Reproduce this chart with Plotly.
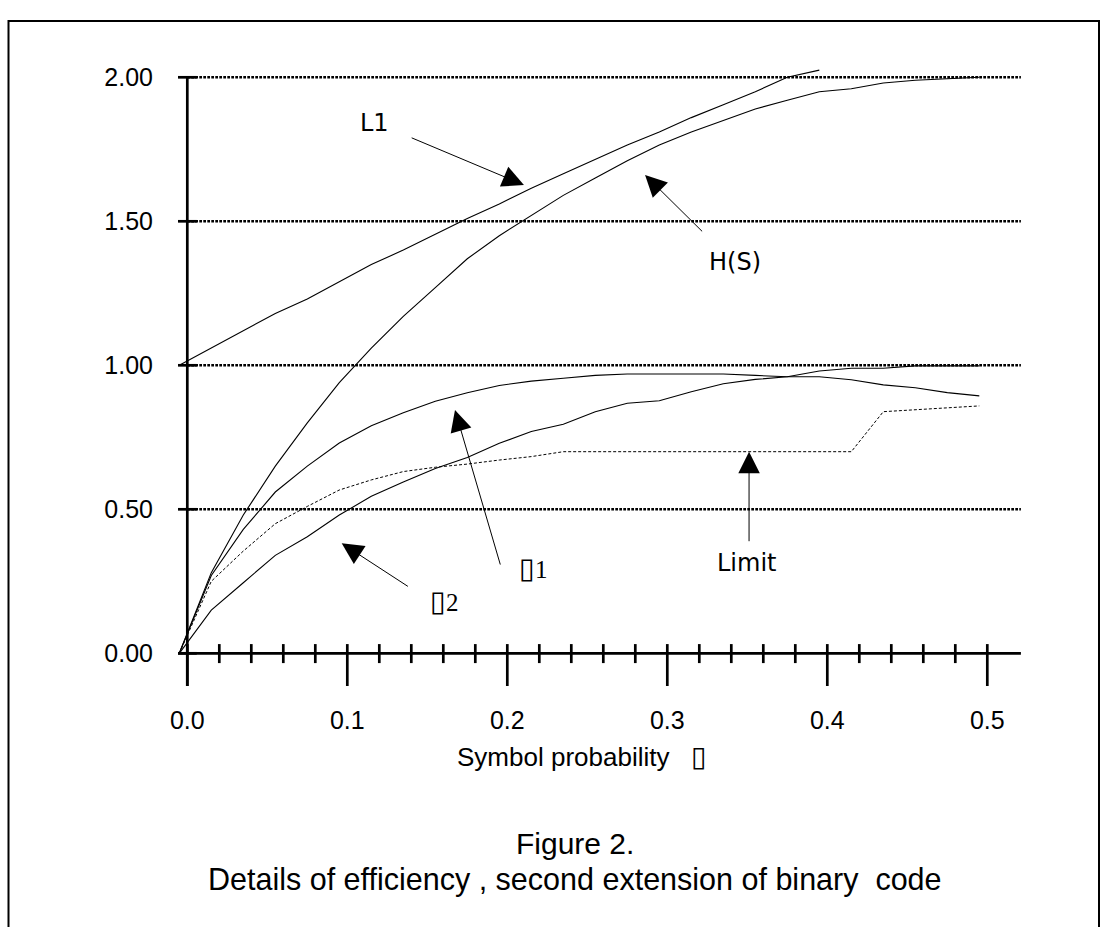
import plotly.graph_objects as go

# ---------------- data ----------------
x_pos = [-0.005, 0.015, 0.035, 0.055, 0.075, 0.095, 0.115, 0.135, 0.155, 0.175,
         0.195, 0.215, 0.235, 0.255, 0.275, 0.295, 0.315, 0.335, 0.355, 0.375,
         0.395, 0.415, 0.435, 0.455, 0.475, 0.495]
h_s = [0.00, 0.28, 0.48, 0.65, 0.80, 0.94, 1.06, 1.17, 1.27, 1.37,
       1.45, 1.52, 1.59, 1.65, 1.71, 1.765, 1.81, 1.85, 1.89, 1.92,
       1.95, 1.96, 1.98, 1.99, 1.995, 2.00]
l1 = [1.00, 1.06, 1.12, 1.18, 1.23, 1.29, 1.35, 1.40, 1.455, 1.51,
      1.56, 1.615, 1.665, 1.715, 1.765, 1.81, 1.86, 1.905, 1.95, 2.00, 2.025]
eta1 = [0.00, 0.27, 0.43, 0.56, 0.65, 0.73, 0.79, 0.835, 0.875, 0.905,
        0.93, 0.945, 0.955, 0.965, 0.97, 0.97, 0.97, 0.97, 0.965, 0.96,
        0.96, 0.95, 0.932, 0.922, 0.905, 0.894]
eta2 = [0.00, 0.15, 0.245, 0.34, 0.405, 0.48, 0.545, 0.595, 0.642, 0.68,
        0.729, 0.77, 0.795, 0.839, 0.868, 0.877, 0.908, 0.936, 0.951, 0.96,
        0.98, 0.99, 0.99, 0.998, 0.998, 0.998]
limit = [0.00, 0.25, 0.355, 0.45, 0.51, 0.567, 0.602, 0.631, 0.646, 0.657,
         0.671, 0.683, 0.70, 0.70, 0.70, 0.70, 0.70, 0.70, 0.70, 0.70,
         0.70, 0.70, 0.839, 0.846, 0.852, 0.859]

x_major = [0.0, 0.1, 0.2, 0.3, 0.4, 0.5]
x_major_labels = ["0.0", "0.1", "0.2", "0.3", "0.4", "0.5"]
x_minor = [0.02, 0.04, 0.06, 0.08, 0.12, 0.14, 0.16, 0.18, 0.22, 0.24, 0.26, 0.28,
           0.32, 0.34, 0.36, 0.38, 0.42, 0.44, 0.46, 0.48]
y_major = [0.0, 0.5, 1.0, 1.5, 2.0]
y_major_labels = ["0.00", "0.50", "1.00", "1.50", "2.00"]
grid_levels = [0.5, 1.0, 1.5, 2.0]

# ---------------- geometry ----------------
W, H = 1101, 927
ML, MR, MT, MB = 170, 71, 50, 237
PW, PH = W - ML - MR, H - MT - MB
X0_PX, X_SCALE = 187.3, 1600.0     # pixel of x=0, pixels per unit
Y0_PX, Y_SCALE = 653.3, 288.0      # pixel of y=0, pixels per unit
x_range = [(ML - X0_PX) / X_SCALE, (W - MR - X0_PX) / X_SCALE]
y_range = [(Y0_PX - (H - MB)) / Y_SCALE, (Y0_PX - MT) / Y_SCALE]


def px(X):
    return (X - ML) / PW


def py(Y):
    return (H - MB - Y) / PH


AXIS_END = 0.521
AX_W = 2.7
BLACK = "#000000"

fig = go.Figure()

line_style = dict(color=BLACK, width=1.1)
fig.add_trace(go.Scatter(x=x_pos, y=h_s, mode="lines", line=line_style, name="H(S)"))
fig.add_trace(go.Scatter(x=x_pos[:len(l1)], y=l1, mode="lines", line=line_style, name="L1"))
fig.add_trace(go.Scatter(x=x_pos, y=eta1, mode="lines", line=line_style, name="eta1"))
fig.add_trace(go.Scatter(x=x_pos, y=eta2, mode="lines", line=line_style, name="eta2"))
fig.add_trace(go.Scatter(x=x_pos, y=limit, mode="lines",
                         line=dict(color=BLACK, width=1, dash="3px,2px"), name="Limit"))

shapes = []
# dotted gridlines
for g in grid_levels:
    shapes.append(dict(type="line", xref="x", yref="y", x0=0, x1=AXIS_END, y0=g, y1=g,
                       line=dict(color=BLACK, width=2.6, dash="2.7px,1.3px"), layer="below"))
# axis lines
shapes.append(dict(type="line", xref="x", yref="y", x0=-0.0058, x1=AXIS_END, y0=0, y1=0,
                   line=dict(color=BLACK, width=AX_W)))
shapes.append(dict(type="line", xref="x", yref="y", x0=0, x1=0, y0=-0.1135, y1=2.0,
                   line=dict(color=BLACK, width=AX_W)))
# x ticks
for t in x_major:
    shapes.append(dict(type="line", xref="x", yref="y", x0=t, x1=t, y0=0.032, y1=-0.1135,
                       line=dict(color=BLACK, width=AX_W)))
for t in x_minor:
    shapes.append(dict(type="line", xref="x", yref="y", x0=t, x1=t, y0=0.032, y1=-0.034,
                       line=dict(color=BLACK, width=AX_W)))
# y ticks
for t in y_major:
    shapes.append(dict(type="line", xref="x", yref="y", x0=-0.0058, x1=0.0059, y0=t, y1=t,
                       line=dict(color=BLACK, width=AX_W)))
# outer frame
shapes.append(dict(type="rect", xref="paper", yref="paper",
                   x0=px(8.5), x1=px(1099), y0=py(940), y1=py(21),
                   line=dict(color=BLACK, width=2)))

annotations = []
label_font = dict(family="DejaVu Sans", size=24, color=BLACK)
serif_font = dict(family="Liberation Serif", size=25, color=BLACK)


def box(size):
    return '<span style="font-family:DejaVu Sans;font-size:%dpx">\u25AF</span>' % size


# curve labels
annotations += [
    dict(x=0.1171, y=1.843, text="L1", showarrow=False, font=label_font),
    dict(x=0.3423, y=1.357, text="H(S)", showarrow=False, font=label_font),
    dict(x=0.3498, y=0.3135, text="Limit", showarrow=False, font=label_font),
    dict(x=0.2161, y=0.296, text=box(29) + "1", showarrow=False, font=serif_font),
    dict(x=0.1603, y=0.1816, text=box(29) + "2", showarrow=False, font=serif_font),
]
for a in annotations:
    a.update(xanchor="center", yanchor="middle")

# arrows: (tip_x, tip_y, tail_x, tail_y)
arrows = [
    (0.2104, 1.626, 0.1393, 1.792),
    (0.2861, 1.661, 0.3227, 1.460),
    (0.3511, 0.700, 0.3511, 0.384),
    (0.1673, 0.845, 0.1959, 0.303),
    (0.0965, 0.382, 0.1388, 0.229),
]
for tx, ty, sx, sy in arrows:
    annotations.append(dict(x=tx, y=ty, ax=sx, ay=sy, xref="x", yref="y", axref="x", ayref="y",
                            text="", showarrow=True, arrowhead=2, arrowsize=4.3, arrowwidth=1,
                            arrowcolor=BLACK, standoff=0, startstandoff=0))

# axis title and caption
annotations += [
    dict(x=px(582), y=py(756), xref="paper", yref="paper", xanchor="center", yanchor="middle",
         text="Symbol probability\u00a0\u00a0\u00a0" + box(28), showarrow=False,
         font=dict(family="Liberation Sans", size=26, color=BLACK)),
    dict(x=px(575), y=py(843), xref="paper", yref="paper", xanchor="center", yanchor="middle",
         text="Figure 2.", showarrow=False, borderpad=0,
         font=dict(family="Liberation Sans", size=30, color=BLACK)),
    dict(x=px(575), y=py(879), xref="paper", yref="paper", xanchor="center", yanchor="middle",
         text="Details of efficiency , second extension of binary\u00a0\u00a0code",
         showarrow=False, borderpad=0,
         font=dict(family="Liberation Sans", size=30.5, color=BLACK)),
]

fig.update_layout(
    width=W, height=H,
    margin=dict(l=ML, r=MR, t=MT, b=MB, pad=0),
    paper_bgcolor="white", plot_bgcolor="white",
    showlegend=False,
    font=dict(family="Liberation Sans", color=BLACK),
    shapes=shapes,
    annotations=annotations,
    xaxis=dict(range=x_range, tickvals=x_major, ticktext=x_major_labels,
               ticks="outside", ticklen=8, tickcolor="rgba(0,0,0,0)",
               showline=False, showgrid=False, zeroline=False,
               tickfont=dict(family="Liberation Sans", size=25, color=BLACK)),
    yaxis=dict(range=y_range, tickvals=y_major, ticktext=y_major_labels,
               ticks="outside", ticklen=11, tickcolor="rgba(0,0,0,0)",
               showline=False, showgrid=False, zeroline=False,
               tickfont=dict(family="Liberation Sans", size=25, color=BLACK)),
)

fig.write_html("out.html", config={"displayModeBar": False},
               post_script="document.body.style.margin='0px';")
